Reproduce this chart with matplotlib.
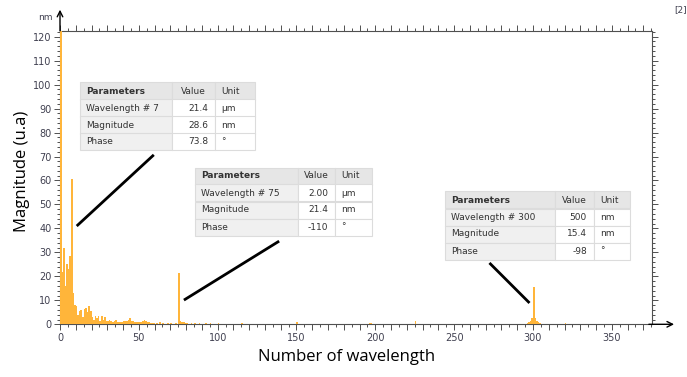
import numpy as np
import matplotlib
matplotlib.use("Agg")
import matplotlib.pyplot as plt
from matplotlib.ticker import MultipleLocator, FuncFormatter
from matplotlib.patches import Rectangle

# spectrum magnitudes, bins 0..59 (bin 0 goes off the top)
low_bins = list(range(60))
low_mags = [125, 22, 32, 16, 25, 23, 28.6, 60.5, 13, 8,
            7.5, 4, 5.5, 6, 3, 6.5, 7, 5, 7.5, 5.5,
            3, 2, 3.5, 2.5, 3.5, 1.5, 3.5, 2, 3, 1.5,
            1.5, 2, 1.5, 1, 1.5, 2, 1, 1, 0.8, 1,
            1.2, 1.5, 1.5, 1.8, 2.5, 1.5, 1.2, 1, 1, 0.8,
            1, 0.8, 1.2, 2, 1.5, 1, 0.8, 0.6, 0.5, 0.5]

# sparse bins further out
high_bins = [61, 63, 65, 68, 70, 73, 75, 76, 77, 78, 79, 80, 83, 85, 88, 92,
             95, 100, 108, 115, 120, 130, 150, 160, 175, 196, 197, 225, 250,
             270, 296, 297, 298, 299, 300, 301, 302, 303, 304, 310, 320, 330, 340]
high_mags = [0.5, 1.0, 0.6, 0.5, 0.4, 0.5, 21.4, 1.5, 1.0, 0.8, 0.6, 0.5, 0.6, 0.4, 0.5, 0.6,
             0.4, 0.4, 0.3, 0.4, 0.3, 0.3, 0.8, 0.3, 0.3, 0.7, 0.5, 1.5, 0.3,
             0.3, 0.5, 0.8, 1.2, 2.5, 15.4, 2.5, 1.2, 0.8, 0.5, 0.3, 0.4, 0.3, 0.3]

# parameter tables
table_rows = ["Wavelength # {}", "Magnitude", "Phase"]
peak_ids = [7, 75, 300]
peak_values = [["21.4", "28.6", "73.8"],
               ["2.00", "21.4", "-110"],
               ["500", "15.4", "-98"]]
peak_units = [["\u00b5m", "nm", "\u00b0"],
              ["\u00b5m", "nm", "\u00b0"],
              ["nm", "nm", "\u00b0"]]

W, H = 687, 377
BAR_COLOR = "#ffb53a"
TXT = "#404050"

fig = plt.figure(figsize=(W / 100, H / 100), dpi=100)
ax = fig.add_axes([60 / W, 1 - 324.3 / H, (652 - 60) / W, (324.3 - 30.7) / H])

bins = low_bins + high_bins
mags = low_mags + high_mags
# bars above the spines so the bin-0 bar paints over the left axis, as in the source
ax.bar(bins, mags, width=1.0, align="edge", color=BAR_COLOR, linewidth=0, zorder=3)

ax.set_xlim(0, 375.5)
ax.set_ylim(0, 122.5)

for s in ax.spines.values():
    s.set_color("#505050")
    s.set_linewidth(0.8)

ax.xaxis.set_major_locator(MultipleLocator(10))
ax.xaxis.set_minor_locator(MultipleLocator(5))
ax.xaxis.set_major_formatter(FuncFormatter(lambda v, p: f"{int(v)}" if v % 50 == 0 else ""))
ax.yaxis.set_major_locator(MultipleLocator(10))
ax.yaxis.set_minor_locator(MultipleLocator(2))
ax.tick_params(which="both", direction="out", top=True, right=True, color="#505050",
               labelsize=7, labelcolor=TXT, width=0.7)
ax.tick_params(which="major", length=4, pad=2)
ax.tick_params(which="minor", length=2)

# axis arrows
ax.annotate("", xy=(0, 1.081), xytext=(0, 0.99), xycoords="axes fraction",
            arrowprops=dict(arrowstyle="->", color="black", lw=1), annotation_clip=False)
ax.annotate("", xy=(1.042, 0), xytext=(0.99, 0), xycoords="axes fraction",
            arrowprops=dict(arrowstyle="->", color="black", lw=1), annotation_clip=False)

fig.text(45 / W, 1 - 17 / H, "nm", fontsize=6.5, color=TXT, ha="center", va="center")
fig.text(681 / W, 1 - 10 / H, "[2]", fontsize=6.5, color=TXT, ha="center", va="center")
fig.text(22 / W, 1 - 171 / H, "Magnitude (u.a)", fontsize=12, family="Open Sans",
         rotation=90, ha="center", va="center")
fig.text(347 / W, 1 - 357 / H, "Number of wavelength", fontsize=12, family="Open Sans",
         ha="center", va="center")

# leader lines from the tables to the peaks
leaders = [((10.6, 41.0), (59.5, 70.7)),
           ((78.6, 10.1), (139.0, 34.7)),
           ((272.4, 25.6), (297.8, 8.9))]
for (x0, y0), (x1, y1) in leaders:
    ax.plot([x0, x1], [y0, y1], color="black", lw=2, solid_capstyle="butt", clip_on=False, zorder=4)


def draw_table(left, top, col_edges, right, row_h, pid, values, units):
    # pixel coords -> figure fraction
    def fx(x):
        return x / W

    def fy(y):
        return 1 - y / H

    xs = [left] + col_edges + [right]
    header = ["Parameters", "Value", "Unit"]
    rows = [[table_rows[0].format(pid), values[0], units[0]],
            [table_rows[1], values[1], units[1]],
            [table_rows[2], values[2], units[2]]]
    for r in range(4):
        y0 = top + r * row_h
        for c in range(3):
            x0, x1 = xs[c], xs[c + 1]
            if r == 0:
                fc = "#e6e6e6"
            elif c == 0:
                fc = "#f0f0f0"
            else:
                fc = "white"
            fig.patches.append(Rectangle((fx(x0), fy(y0 + row_h)), (x1 - x0) / W, row_h / H,
                                         transform=fig.transFigure, facecolor=fc,
                                         edgecolor="#dcdcdc", linewidth=0.8))
            if r == 0:
                txt, bold = header[c], c == 0
            else:
                txt, bold = rows[r - 1][c], False
            if c == 1 and r > 0:
                xt, ha = x1 - 7, "right"
            elif c == 1:
                xt, ha = (x0 + x1) / 2, "center"
            else:
                xt, ha = x0 + 6, "left"
            fig.text(fx(xt), fy(y0 + row_h / 2), txt, fontsize=6.5, color="#333333",
                     fontweight="bold" if bold else "normal", ha=ha, va="center",
                     family="DejaVu Sans")


draw_table(80, 82.5, [172, 215], 255, 17, peak_ids[0], peak_values[0], peak_units[0])
draw_table(195, 167.5, [298, 335], 372, 17, peak_ids[1], peak_values[1], peak_units[1])
draw_table(445, 191.5, [555, 594], 630, 17, peak_ids[2], peak_values[2], peak_units[2])

fig.savefig("out.png", dpi=100)
